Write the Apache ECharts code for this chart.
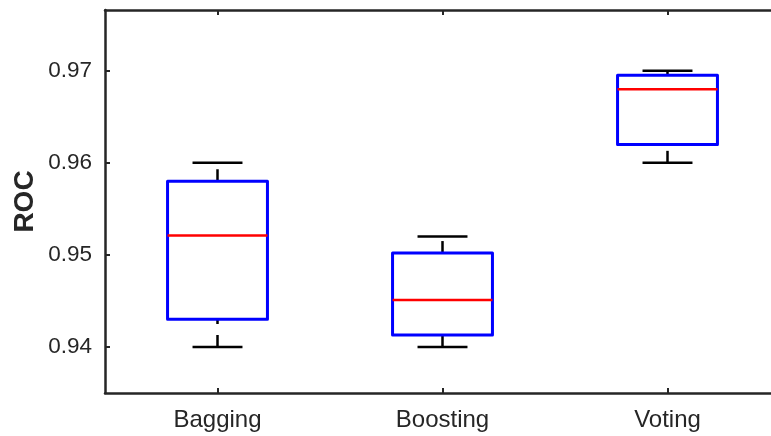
<!DOCTYPE html>
<html lang="en">
<head>
    <meta charset="UTF-8">
    <title>ROC boxplot</title>
    <script src="https://cdn.jsdelivr.net/npm/echarts@6/dist/echarts.min.js"></script>
    <style>
        html, body { margin: 0; padding: 0; background: #fff; }
        #chart { width: 771px; height: 436px; }
    </style>
</head>
<body>
    <div id="chart"></div>
</body>
<script>
    // data
    var categories = ['Bagging', 'Boosting', 'Voting'];
    var whiskerLow = [0.9400, 0.9400, 0.9600];
    var q1 = [0.9430, 0.9413, 0.9620];
    var median = [0.9521, 0.9451, 0.9680];
    var q3 = [0.9580, 0.9502, 0.9695];
    var whiskerHigh = [0.9600, 0.9520, 0.9700];
    var yTicks = [0.94, 0.95, 0.96, 0.97];
    var xTicks = [1, 2, 3];

    var textColor = '#262626';
    var font = 'Liberation Sans, Arial, Helvetica, sans-serif';

    var boxData = categories.map(function (c, i) {
        return [i + 1, whiskerLow[i], q1[i], median[i], q3[i], whiskerHigh[i]];
    });

    function renderBox(params, api) {
        var x = api.value(0);
        var unit = api.size([1, 0])[0];
        var half = unit * 0.222;
        var capHalf = unit * 0.111;
        var pLow = api.coord([x, api.value(1)]);
        var pQ1 = api.coord([x, api.value(2)]);
        var pMed = api.coord([x, api.value(3)]);
        var pQ3 = api.coord([x, api.value(4)]);
        var pHigh = api.coord([x, api.value(5)]);
        var cx = pMed[0];
        var whisker = { stroke: '#000', lineWidth: 2.5, lineDash: [12, 11] };
        var cap = { stroke: '#000', lineWidth: 2.5 };
        return {
            type: 'group',
            children: [
                // whiskers (dashed like matlab)
                { type: 'line', shape: { x1: cx, y1: pLow[1], x2: cx, y2: pQ1[1] }, style: whisker },
                { type: 'line', shape: { x1: cx, y1: pQ3[1], x2: cx, y2: pHigh[1] }, style: whisker },
                // caps
                { type: 'line', shape: { x1: cx - capHalf, y1: pLow[1], x2: cx + capHalf, y2: pLow[1] }, style: cap },
                { type: 'line', shape: { x1: cx - capHalf, y1: pHigh[1], x2: cx + capHalf, y2: pHigh[1] }, style: cap },
                // box
                {
                    type: 'rect',
                    shape: { x: cx - half, y: pQ3[1], width: half * 2, height: pQ1[1] - pQ3[1] },
                    style: { fill: 'rgba(0,0,0,0)', stroke: '#0000ff', lineWidth: 3, lineJoin: 'round' }
                },
                // median
                { type: 'line', shape: { x1: cx - half, y1: pMed[1], x2: cx + half, y2: pMed[1] }, style: { stroke: '#ff0000', lineWidth: 2.5 } }
            ]
        };
    }

    var chart = echarts.init(document.getElementById('chart'));
    chart.setOption({
        animation: false,
        backgroundColor: '#fff',
        grid: { left: 105, top: 10, bottom: 43, right: 0, outerBoundsMode: 'none' },
        xAxis: [{
            type: 'value',
            min: 0.5,
            max: 3.46,   // right side of the axes box is cut off in the original
            axisLine: { show: true, onZero: false, lineStyle: { color: textColor, width: 2.5 } },
            axisTick: { inside: true, length: 5, customValues: xTicks, lineStyle: { color: textColor, width: 2 } },
            axisLabel: {
                color: textColor, fontSize: 24, fontFamily: font, margin: 15,
                customValues: xTicks,
                formatter: function (v) { return categories[Math.round(v) - 1]; }
            },
            splitLine: { show: false }
        }, {
            // top edge of the box
            type: 'value', position: 'top', min: 0.5, max: 3.46,
            axisLine: { show: true, onZero: false, lineStyle: { color: textColor, width: 2.5 } },
            axisTick: { inside: true, length: 5, customValues: xTicks, lineStyle: { color: textColor, width: 2 } },
            axisLabel: { show: false }, splitLine: { show: false }
        }],
        yAxis: {
            type: 'value',
            min: 0.935,
            max: 0.9766,
            name: 'ROC',
            nameLocation: 'middle',
            nameGap: 66,
            nameMoveOverlap: false,
            nameTextStyle: { color: textColor, fontSize: 28, fontWeight: 'bold', fontFamily: font },
            axisLine: { show: true, onZero: false, lineStyle: { color: textColor, width: 2.5 } },
            axisTick: { inside: true, length: 5, customValues: yTicks, lineStyle: { color: textColor, width: 2 } },
            axisLabel: {
                color: textColor, fontSize: 22.5, fontFamily: font, margin: 13,
                customValues: yTicks,
                formatter: function (v) { return v.toFixed(2); }
            },
            splitLine: { show: false }
        },
        series: [{
            type: 'custom',
            renderItem: renderBox,
            encode: { x: 0, y: [1, 2, 3, 4, 5] },
            data: boxData,
            clip: false
        }]
    });
</script>
</html>
